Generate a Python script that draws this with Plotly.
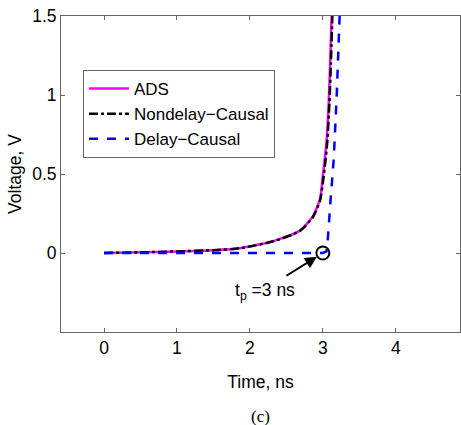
import plotly.graph_objects as go

# values
ads_t = [0, 0.5, 1.0, 1.5, 1.86, 2.32, 2.68, 2.86, 2.96, 3.0, 3.05, 3.08, 3.1, 3.12]
ads_v = [0, 0.004, 0.01, 0.018, 0.03, 0.075, 0.14, 0.23, 0.34, 0.49, 0.7, 0.95, 1.2, 1.5]

nondelay_t = [0, 0.5, 1.0, 1.5, 1.86, 2.32, 2.68, 2.86, 2.96, 3.01, 3.06, 3.09, 3.11, 3.13]
nondelay_v = [0, 0.004, 0.01, 0.018, 0.03, 0.074, 0.138, 0.225, 0.33, 0.48, 0.7, 0.95, 1.2, 1.5]

delay_t = [0, 3.0, 3.05, 3.07, 3.1, 3.15, 3.19, 3.23]
delay_v = [0, 0, 0.01, 0.1, 0.3, 0.6, 1.0, 1.5]

tp_t = [3.0]
tp_v = [0.0]

x_ticks = [0, 1, 2, 3, 4]
y_ticks = [0, 0.5, 1, 1.5]
y_tick_labels = ['0', '0.5', '1', '1.5']

font = 'Liberation Sans, Arial, sans-serif'
fs = 17.5

fig = go.Figure()
fig.add_trace(go.Scatter(x=ads_t, y=ads_v, mode='lines', name='ADS',
                         line=dict(color='#ff00ff', width=2.5, shape='spline', smoothing=0.6)))
fig.add_trace(go.Scatter(x=nondelay_t, y=nondelay_v, mode='lines', name='Nondelay\u2212Causal',
                         line=dict(color='black', width=2.5, dash='dashdot', shape='spline', smoothing=0.6)))
fig.add_trace(go.Scatter(x=delay_t, y=delay_v, mode='lines', name='Delay\u2212Causal',
                         line=dict(color='#0000ff', width=2.5, dash='dash')))
fig.add_trace(go.Scatter(x=tp_t, y=tp_v, mode='markers', showlegend=False,
                         marker=dict(symbol='circle-open', size=13, color='black',
                                     line=dict(width=2, color='black'))))

# arrow pointing at the delay time
fig.add_annotation(x=3.0, y=0.0, ax=2.48, ay=-0.15, axref='x', ayref='y',
                   text='', showarrow=True, arrowhead=2, arrowsize=1.2,
                   arrowwidth=2, arrowcolor='black', standoff=7)
fig.add_annotation(x=2.21, y=-0.245, text='t<sub>p</sub> =3 ns', showarrow=False,
                   xanchor='center', font=dict(size=fs, color='black', family=font))

# caption
fig.add_annotation(x=0.5, y=-0.266, xref='paper', yref='paper', text='(c)',
                   showarrow=False, yanchor='middle',
                   font=dict(size=17, color='black', family='Liberation Serif, Times New Roman, serif'))

axis_common = dict(showline=True, linecolor='#666666', linewidth=1, mirror='ticks',
                   ticks='inside', ticklen=4, tickcolor='#666666', showgrid=False,
                   zeroline=False, tickfont=dict(size=fs, color='black', family=font))

fig.update_layout(
    width=461, height=425,
    margin=dict(l=61, r=1, t=16, b=93),
    plot_bgcolor='white', paper_bgcolor='white',
    font=dict(family=font, size=fs, color='black'),
    xaxis=dict(range=[-0.59, 4.88], tickvals=x_ticks,
               title=dict(text='Time, ns', font=dict(size=fs), standoff=18), **axis_common),
    yaxis=dict(range=[-0.5, 1.5], tickvals=y_ticks, ticktext=y_tick_labels,
               title=dict(text='Voltage, V', font=dict(size=fs), standoff=6), **axis_common),
    legend=dict(x=0.055, y=0.829, xanchor='left', yanchor='top',
                bordercolor='#666666', borderwidth=1, bgcolor='white',
                font=dict(size=17, family=font), tracegroupgap=0, itemwidth=40),
    showlegend=True,
)

# drop the page's default body margin so the figure sits at the window corner
fig.write_html('out.html', config={'displayModeBar': False},
               post_script="document.body.style.margin='0';")
